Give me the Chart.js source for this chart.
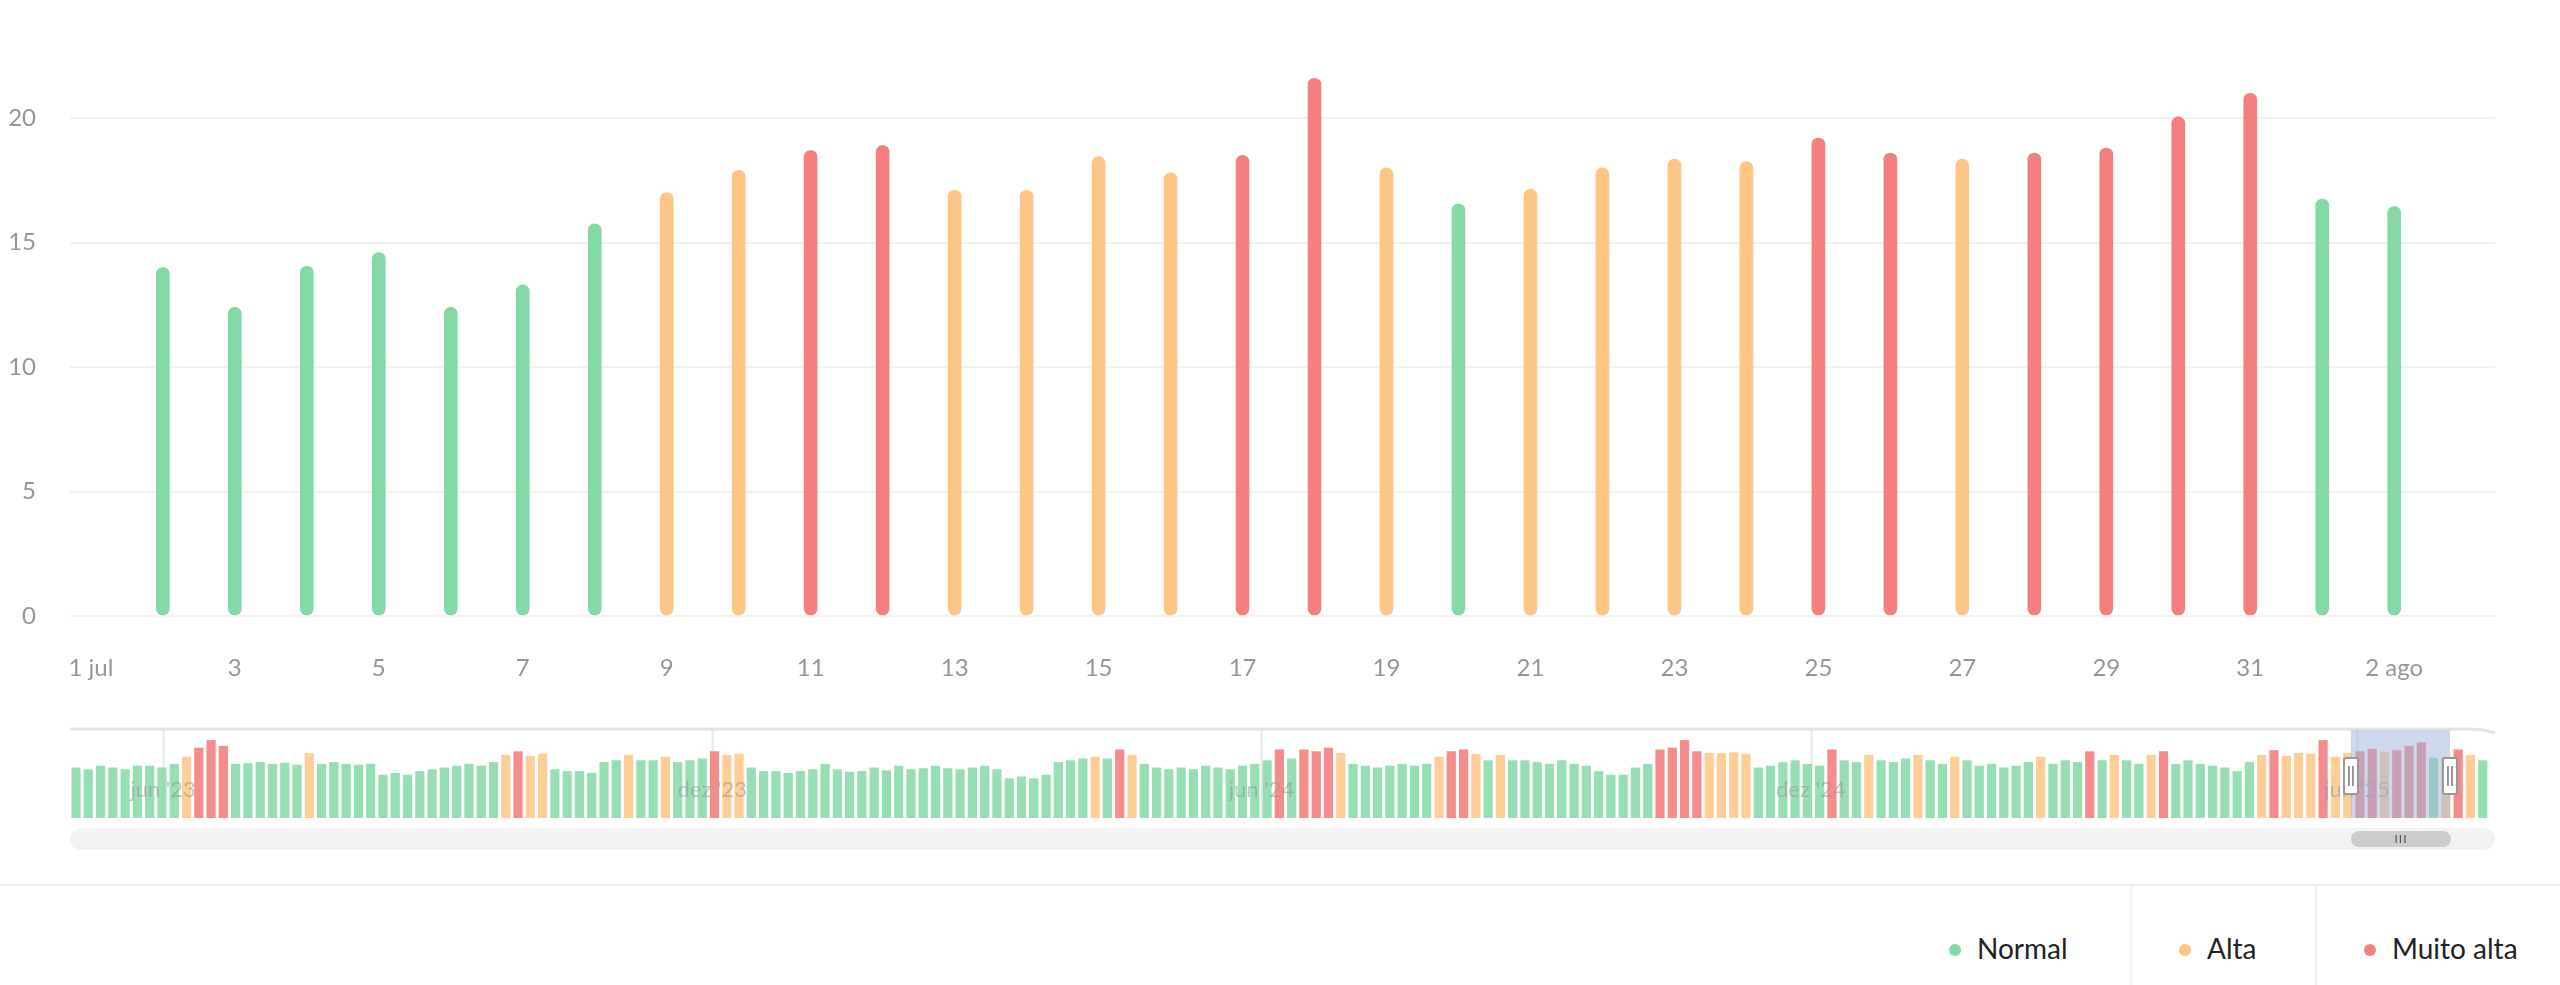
<!DOCTYPE html>
<html>
<head>
<meta charset="utf-8">
<script src="https://cdn.jsdelivr.net/npm/chart.js@4/dist/chart.umd.min.js"></script>
<style>
  body { margin: 0; width: 2560px; height: 985px; background: #fff; font-family: Lato, "Noto Sans", sans-serif; overflow: hidden; position: relative; }
  #mainWrap { position: absolute; left: 0; top: 0; width: 2560px; height: 700px; }
  #navWrap { position: absolute; left: 0; top: 720px; width: 2560px; height: 110px; }
  #scroll { position: absolute; left: 70px; top: 828px; width: 2425px; height: 22px; background: #f2f2f2; border-radius: 11px; }
  #thumb { position: absolute; left: 2281px; top: 3px; width: 100px; height: 16px; background: #cccccc; border-radius: 8px; color: #555; font-size: 12px; line-height: 16px; text-align: center; letter-spacing: 1px; }
  #sep { position: absolute; left: 0; top: 884px; width: 2560px; height: 2px; background: #eeeeee; }
  .vsep { position: absolute; top: 886px; width: 2px; height: 99px; background: #f0f0f0; }
  .leg { position: absolute; top: 928px; font-size: 28px; color: #222; line-height: 40px; }
  .leg i { display: inline-block; width: 12px; height: 12px; border-radius: 6px; margin-right: 16px; vertical-align: middle; position: relative; top: -2px; }
</style>
</head>
<body>
<div id="mainWrap"><canvas id="mainChart"></canvas></div>
<div id="navWrap"><canvas id="navChart"></canvas></div>
<div id="scroll"><div id="thumb">III</div></div>
<div id="sep"></div>
<div class="vsep" style="left:2130px"></div>
<div class="vsep" style="left:2315px"></div>
<div class="leg" style="left:1949px"><i style="background:#84d9a7"></i>Normal</div>
<div class="leg" style="left:2179px"><i style="background:#ffc585"></i>Alta</div>
<div class="leg" style="left:2364px"><i style="background:#f37f7f"></i>Muito alta</div>

<script>
// ================= DATA =================
const days = [2,3,4,5,6,7,8,9,10,11,12,13,14,15,16,17,18,19,20,21,22,23,24,25,26,27,28,29,30,31,32,33];
const values = [14,12.4,14.05,14.6,12.4,13.3,15.75,17,17.9,18.7,18.9,17.1,17.1,18.45,17.8,18.5,21.6,18,16.55,17.15,18,18.35,18.25,19.2,18.6,18.35,18.6,18.8,20.05,21,16.75,16.45];
const dayLabels = {1: "1 jul", 33: "2 ago"};

// overview (navigator) values, roughly every few days from may '23 to aug '25
const navValues = [
  14,13.5,14.5,14,13.5,14.5,14.5,14,15,17,19.5,21.6,20,
  15,15.2,15.5,15,15.3,14.8,18,15,15.5,15,14.8,15,
  12,12.5,12,13,13.5,14,14.5,15,14.5,15.5,17.5,18.5,17.2,17.8,
  13.5,13,13,12.5,15.5,16,17.5,16,16,17,15.5,16,16.5,18.5,17.5,17.8,
  14,13,13,12.5,13,13.5,15,13.5,12.8,13,14,13.2,14.5,13.5,13.8,14.5,13.8,13.5,14,14.5,13.5,11,11.5,11,12,15.5,
  16,16.5,17,16.5,19,17.5,15,14,13.5,14,13.5,14.5,14,
  13.5,14.5,15,16,19,16.5,19,18.5,19.5,18,
  15,14.5,14,14.5,15,14.5,15,17,18.5,19,17.8,16,17.5,16,
  16,15.5,15,16,15,14.5,13,12,12,14,15,
  19,19.5,21.6,18.5,18,18,18.2,17.8,
  14,14.5,15.5,16,15,14.5,19,16,15.5,17.5,16,15.5,16.5,17.5,16,15,17,16,14.5,15,14,14.5,15.5,17,15,16,15.5,18.5,16,17.5,16,15,17.5,18.5,15,16,15,14.5,
  14,13,15.5,17.5,18.8,17.2,18,17.8,21.6,17,18,18.5,19.2,18.4,18.8,20,21,16.7,
  17,19,17.5,16
];
const navTicks = [31, 214, 397, 580, 762];
const navTickLabels = ["jun '23", "dez '23", "jun '24", "dez '24", "jun '25"];
const selection = [760, 793];

// ================= COLORS =================
const level = v => v >= 18.5 ? 2 : v >= 16.9 ? 1 : 0;
const mainColors = ["#84d9a7", "#ffc585", "#f37f7f"];
const navColors = ["rgba(132,217,167,0.85)", "rgba(255,197,133,0.85)", "rgba(243,127,127,0.9)"];
const tickColor = "#9b9590";

Chart.defaults.font.family = "Lato, 'Noto Sans', sans-serif";
Chart.defaults.animation = false;

// ================= MAIN CHART =================
new Chart(document.getElementById("mainChart"), {
  type: "bar",
  data: {
    datasets: [{
      data: days.map((d, i) => ({ x: d, y: values[i] })),
      backgroundColor: values.map(v => mainColors[level(v)]),
      barThickness: 13,
      borderRadius: 7,
      borderSkipped: false
    }]
  },
  options: {
    responsive: true,
    maintainAspectRatio: false,
    layout: { padding: { top: 18, right: 65 } },
    plugins: { legend: { display: false }, tooltip: { enabled: false } },
    scales: {
      x: {
        type: "linear", min: 0.71, max: 34.4, offset: false,
        grid: { display: false }, border: { display: false },
        afterBuildTicks: s => { s.ticks = []; for (let d = 1; d <= 33; d += 2) s.ticks.push({ value: d }); },
        afterFit: s => { s.height = 84; },
        ticks: { color: tickColor, font: { size: 24 }, padding: 30, maxRotation: 0, autoSkip: false,
                 callback: v => dayLabels[v] || String(v) }
      },
      y: {
        min: 0, max: 22.8, bounds: "data",
        grid: { color: "#f5f1f0", lineWidth: 2, drawTicks: false }, border: { display: false },
        afterBuildTicks: s => { s.ticks = [0, 5, 10, 15, 20].map(v => ({ value: v })); },
        afterFit: s => { s.width = 70; },
        ticks: { color: tickColor, font: { size: 24 }, padding: 34 }
      }
    }
  }
});

// ================= NAVIGATOR =================
const navStep = 806 / navValues.length;
const navOverlay = {
  id: "navOverlay",
  beforeDatasetsDraw(chart) {
    const { ctx, chartArea: a, scales: { x } } = chart;
    ctx.save();
    ctx.strokeStyle = "#e6e6e6"; ctx.lineWidth = 2;
    navTicks.forEach(t => {
      const px = Math.round(x.getPixelForValue(t)) + 0.5;
      ctx.beginPath(); ctx.moveTo(px, a.top); ctx.lineTo(px, a.bottom); ctx.stroke();
    });
    ctx.restore();
  },
  afterDatasetsDraw(chart) {
    const { ctx, chartArea: a, scales: { x } } = chart;
    ctx.save();
    ctx.fillStyle = "rgba(150,150,150,0.55)";
    ctx.font = "22px Lato, sans-serif";
    ctx.textAlign = "center"; ctx.textBaseline = "middle";
    navTicks.forEach((t, i) => ctx.fillText(navTickLabels[i], x.getPixelForValue(t), a.top + 60));
    // top border
    ctx.strokeStyle = "#e3e3e3"; ctx.lineWidth = 3;
    ctx.beginPath(); ctx.moveTo(a.left, a.top - 1); ctx.lineTo(a.right - 30, a.top - 1);
    ctx.quadraticCurveTo(a.right - 10, a.top - 1, a.right, a.top + 3); ctx.stroke();
    // selection
    const x0 = x.getPixelForValue(selection[0]), x1 = x.getPixelForValue(selection[1]);
    ctx.fillStyle = "rgba(160,180,220,0.5)";
    ctx.fillRect(x0, a.top, x1 - x0, a.bottom - a.top);
    [x0, x1].forEach(px => {
      ctx.fillStyle = "#fff"; ctx.strokeStyle = "#999"; ctx.lineWidth = 2;
      ctx.beginPath(); ctx.roundRect(px - 7, a.top + 28, 14, 36, 2); ctx.fill(); ctx.stroke();
      ctx.strokeStyle = "#777"; ctx.lineWidth = 1.5;
      ctx.beginPath(); ctx.moveTo(px - 2, a.top + 36); ctx.lineTo(px - 2, a.top + 56);
      ctx.moveTo(px + 2, a.top + 36); ctx.lineTo(px + 2, a.top + 56); ctx.stroke();
    });
    ctx.restore();
  }
};

new Chart(document.getElementById("navChart"), {
  type: "bar",
  data: {
    datasets: [{
      data: navValues.map((v, i) => ({ x: 2 + i * navStep, y: v })),
      backgroundColor: navValues.map(v => navColors[level(v)]),
      barPercentage: 0.75,
      categoryPercentage: 1
    }]
  },
  options: {
    responsive: true,
    maintainAspectRatio: false,
    layout: { padding: { top: 10, bottom: 12, left: 70, right: 65 } },
    plugins: { legend: { display: false }, tooltip: { enabled: false } },
    scales: {
      x: { type: "linear", min: 0, max: 808, offset: false, display: false },
      y: { min: 0, max: 24.4, display: false }
    }
  }
  ,
  plugins: [navOverlay]
});
</script>
</body>
</html>
